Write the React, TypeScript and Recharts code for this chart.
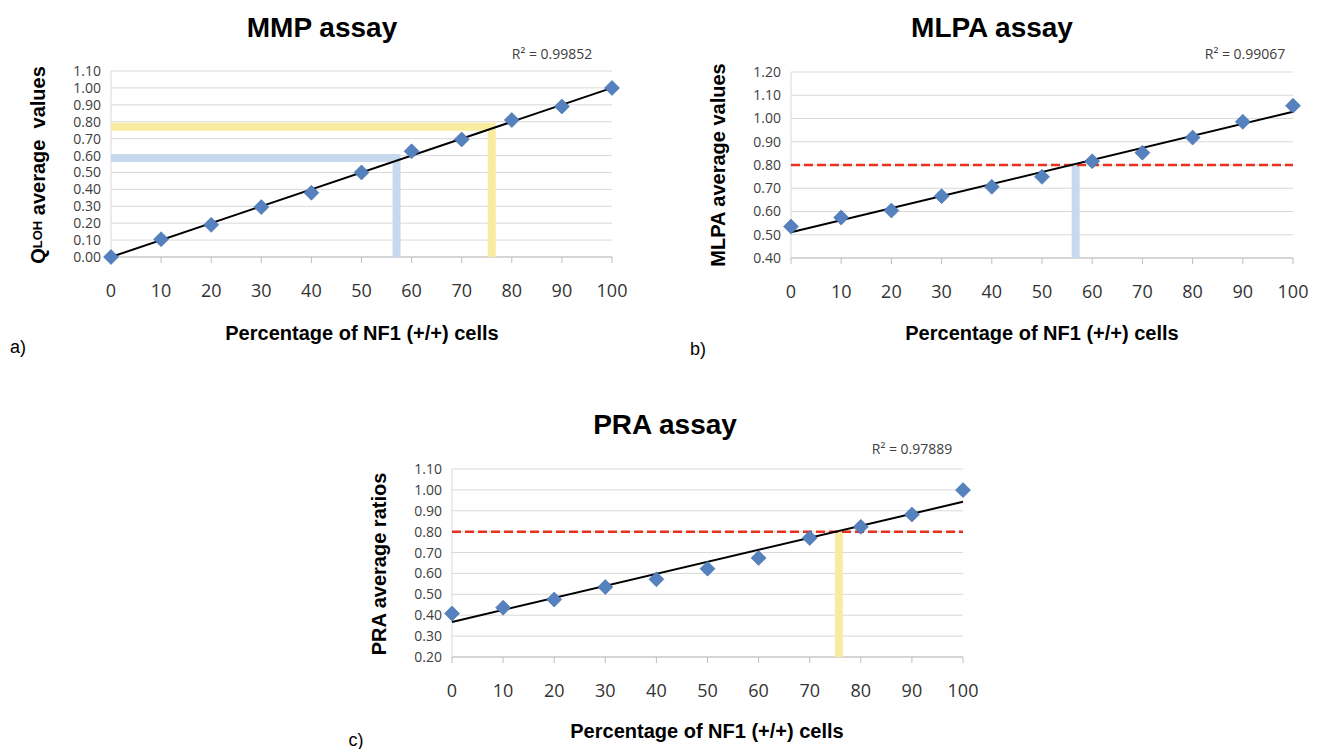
import { ScatterChart, Scatter, XAxis, YAxis, CartesianGrid } from 'recharts'

type Pt = { x: number; y: number }
type Guide = { points: Pt[]; color: string }

// shared x categories
const pct = [0, 10, 20, 30, 40, 50, 60, 70, 80, 90, 100]

// series values
const mmpValues = [0.0, 0.105, 0.19, 0.295, 0.38, 0.5, 0.625, 0.695, 0.81, 0.89, 1.0]
const mlpaValues = [0.535, 0.574, 0.604, 0.666, 0.706, 0.749, 0.816, 0.853, 0.918, 0.986, 1.055]
const praValues = [0.408, 0.436, 0.475, 0.535, 0.572, 0.623, 0.674, 0.77, 0.823, 0.882, 0.999]

// linear trend end points
const mmpTrend: Pt[] = [{ x: 0, y: 0.0 }, { x: 100, y: 1.0 }]
const mlpaTrend: Pt[] = [{ x: 0, y: 0.511 }, { x: 100, y: 1.029 }]
const praTrend: Pt[] = [{ x: 0, y: 0.368 }, { x: 100, y: 0.943 }]

// tick labels
const mmpTicks = [0.0, 0.1, 0.2, 0.3, 0.4, 0.5, 0.6, 0.7, 0.8, 0.9, 1.0, 1.1]
const mlpaTicks = [0.4, 0.5, 0.6, 0.7, 0.8, 0.9, 1.0, 1.1, 1.2]
const praTicks = [0.2, 0.3, 0.4, 0.5, 0.6, 0.7, 0.8, 0.9, 1.0, 1.1]

// cut-off threshold (red dashed)
const threshold = 0.8

// highlighted read-off guides
const mmpBlueGuide: Pt[] = [{ x: 0, y: 0.585 }, { x: 57, y: 0.585 }, { x: 57, y: 0 }]
const mmpYellowGuide: Pt[] = [{ x: 0, y: 0.77 }, { x: 76, y: 0.77 }, { x: 76, y: 0 }]
const mlpaBlueGuide: Pt[] = [{ x: 56.7, y: 0.8 }, { x: 56.7, y: 0.4 }]
const praYellowGuide: Pt[] = [{ x: 75.7, y: 0.8 }, { x: 75.7, y: 0.2 }]

const BLUE_BAND = '#c6d9ef'
const YELLOW_BAND = '#f9eb9f'
const TICK_FONT = '"Open Sans", "Liberation Sans", sans-serif'
const BOLD_FONT = '"Liberation Sans", Arial, sans-serif'

const toPoints = (vals: number[]) => pct.map((x, i) => ({ x, y: vals[i] }))

const Diamond = (props: any) => {
  const { cx, cy } = props
  const r = 7.5
  return (
    <polygon
      points={`${cx},${cy - r} ${cx + r},${cy} ${cx},${cy + r} ${cx - r},${cy}`}
      fill="#5581bf"
      stroke="#3f6ba6"
      strokeWidth={0.6}
    />
  )
}

const Nothing = () => <g />

type PanelProps = {
  left: number
  top: number
  width: number
  height: number
  margin: { top: number; right: number; bottom: number; left: number }
  values: number[]
  trend: Pt[]
  yDomain: [number, number]
  yTicks: number[]
  guides: Guide[]
  withThreshold: boolean
}

function Panel({ left, top, width, height, margin, values, trend, yDomain, yTicks, guides, withThreshold }: PanelProps) {
  return (
    <div style={{ position: 'absolute', left, top }}>
      <ScatterChart width={width} height={height} margin={margin}>
        <CartesianGrid horizontal vertical={false} stroke="#d9d9d9" />
        <XAxis
          type="number"
          dataKey="x"
          domain={[0, 100]}
          ticks={pct}
          interval={0}
          height={50}
          stroke="#bfbfbf"
          tickSize={6}
          tickMargin={21}
          tick={{ fontSize: 18, fill: '#333', fontFamily: TICK_FONT }}
        />
        <YAxis
          type="number"
          dataKey="y"
          domain={yDomain}
          ticks={yTicks}
          interval={0}
          width={60}
          stroke="#d9d9d9"
          tickLine={false}
          tickSize={0}
          tickMargin={10}
          tickFormatter={(v: number) => v.toFixed(2)}
          tick={{ fontSize: 14, fill: '#404040', fontFamily: TICK_FONT }}
        />
        {guides.map((g, i) => (
          <Scatter
            key={i}
            data={g.points}
            shape={Nothing}
            line={{ stroke: g.color, strokeWidth: 8, strokeLinejoin: 'miter' }}
            lineJointType="linear"
            isAnimationActive={false}
          />
        ))}
        {withThreshold && (
          <Scatter
            data={[{ x: 0, y: threshold }, { x: 100, y: threshold }]}
            shape={Nothing}
            line={{ stroke: '#e8311f', strokeWidth: 2.5, strokeDasharray: '9 4' }}
            isAnimationActive={false}
          />
        )}
        <Scatter
          data={trend}
          shape={Nothing}
          line={{ stroke: '#000', strokeWidth: 2 }}
          isAnimationActive={false}
        />
        <Scatter data={toPoints(values)} shape={Diamond} isAnimationActive={false} />
      </ScatterChart>
    </div>
  )
}

const abs = (x: number, y: number, extra: React.CSSProperties = {}): React.CSSProperties => ({
  position: 'absolute',
  left: x,
  top: y,
  transform: 'translate(-50%, -50%)',
  whiteSpace: 'nowrap',
  ...extra,
})

const titleStyle = { fontFamily: BOLD_FONT, fontWeight: 700, fontSize: 28, color: '#000' }
const axisTitleStyle = { fontFamily: BOLD_FONT, fontWeight: 700, fontSize: 20, color: '#000' }
const r2Style = { fontFamily: TICK_FONT, fontSize: 14, color: '#404040' }
const letterStyle = { fontFamily: BOLD_FONT, fontSize: 18, color: '#000' }
const rot = 'translate(-50%, -50%) rotate(-90deg)'

export default function App() {
  return (
    <div style={{ position: 'absolute', left: 0, top: 0, width: 1321, height: 749, background: '#fff', overflow: 'hidden' }}>
      <Panel
        left={0}
        top={0}
        width={640}
        height={307}
        margin={{ top: 71, right: 28, bottom: 0, left: 51 }}
        values={mmpValues}
        trend={mmpTrend}
        yDomain={[0, 1.1]}
        yTicks={mmpTicks}
        guides={[
          { points: mmpBlueGuide, color: BLUE_BAND },
          { points: mmpYellowGuide, color: YELLOW_BAND },
        ]}
        withThreshold={false}
      />
      <Panel
        left={680}
        top={0}
        width={641}
        height={308}
        margin={{ top: 72, right: 28, bottom: 0, left: 51 }}
        values={mlpaValues}
        trend={mlpaTrend}
        yDomain={[0.4, 1.2]}
        yTicks={mlpaTicks}
        guides={[{ points: mlpaBlueGuide, color: BLUE_BAND }]}
        withThreshold
      />
      <Panel
        left={340}
        top={398}
        width={660}
        height={309}
        margin={{ top: 71, right: 37, bottom: 0, left: 52 }}
        values={praValues}
        trend={praTrend}
        yDomain={[0.2, 1.1]}
        yTicks={praTicks}
        guides={[{ points: praYellowGuide, color: YELLOW_BAND }]}
        withThreshold
      />

      <div style={abs(322, 28, titleStyle)}>MMP assay</div>
      <div style={abs(992, 28, titleStyle)}>MLPA assay</div>
      <div style={abs(665, 425, titleStyle)}>PRA assay</div>

      <div style={abs(552, 53, r2Style)}>R² = 0.99852</div>
      <div style={abs(1245, 53, r2Style)}>R² = 0.99067</div>
      <div style={abs(912, 448, r2Style)}>R² = 0.97889</div>

      <div style={abs(362, 333, axisTitleStyle)}>Percentage of NF1 (+/+) cells</div>
      <div style={abs(1042, 333, axisTitleStyle)}>Percentage of NF1 (+/+) cells</div>
      <div style={abs(707, 731, axisTitleStyle)}>Percentage of NF1 (+/+) cells</div>

      <div style={abs(38, 165, { ...axisTitleStyle, transform: rot })}>
        Q<span style={{ fontSize: 13, position: 'relative', top: -3 }}>LOH</span> average&nbsp; values
      </div>
      <div style={abs(718, 165, { ...axisTitleStyle, transform: rot })}>MLPA average values</div>
      <div style={abs(379, 564, { ...axisTitleStyle, transform: rot })}>PRA average ratios</div>

      <div style={abs(18, 347, letterStyle)}>a)</div>
      <div style={abs(698, 349, letterStyle)}>b)</div>
      <div style={abs(356, 740, letterStyle)}>c)</div>
    </div>
  )
}
